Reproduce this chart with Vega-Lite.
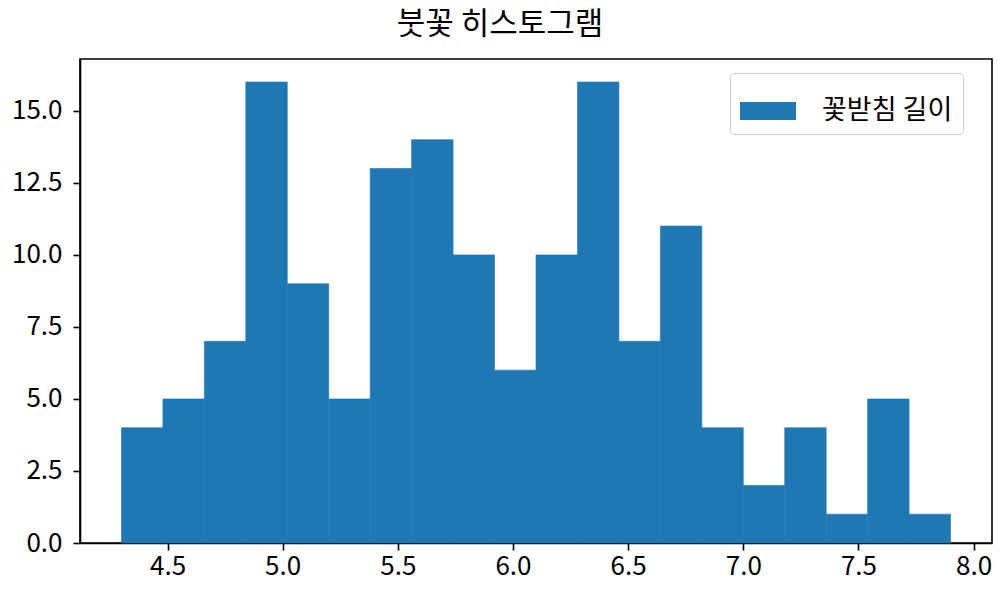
{
  "$schema": "https://vega.github.io/schema/vega-lite/v6.json",
  "width": 912,
  "height": 484,
  "autosize": {"type": "none"},
  "padding": {"left": 80, "top": 59, "right": 8, "bottom": 57},
  "background": "white",
  "config": {
    "font": "Noto Sans CJK KR",
    "view": {"stroke": "black", "strokeWidth": 1.6},
    "axis": {
      "grid": false,
      "domainColor": "black",
      "domainWidth": 1.6,
      "tickColor": "black",
      "tickWidth": 1.6,
      "tickSize": 7,
      "labelColor": "black",
      "labelFont": "Noto Sans CJK KR",
      "labelFontSize": 26,
      "title": null
    }
  },
  "title": {
    "text": "붓꽃 히스토그램",
    "fontSize": 31,
    "fontWeight": "normal",
    "font": "Noto Sans CJK KR",
    "color": "black",
    "anchor": "middle",
    "dx": -36,
    "offset": 18
  },
  "data": {
    "values": [
      {"bin_start": 4.30, "bin_end": 4.48, "count": 4},
      {"bin_start": 4.48, "bin_end": 4.66, "count": 5},
      {"bin_start": 4.66, "bin_end": 4.84, "count": 7},
      {"bin_start": 4.84, "bin_end": 5.02, "count": 16},
      {"bin_start": 5.02, "bin_end": 5.20, "count": 9},
      {"bin_start": 5.20, "bin_end": 5.38, "count": 5},
      {"bin_start": 5.38, "bin_end": 5.56, "count": 13},
      {"bin_start": 5.56, "bin_end": 5.74, "count": 14},
      {"bin_start": 5.74, "bin_end": 5.92, "count": 10},
      {"bin_start": 5.92, "bin_end": 6.10, "count": 6},
      {"bin_start": 6.10, "bin_end": 6.28, "count": 10},
      {"bin_start": 6.28, "bin_end": 6.46, "count": 16},
      {"bin_start": 6.46, "bin_end": 6.64, "count": 7},
      {"bin_start": 6.64, "bin_end": 6.82, "count": 11},
      {"bin_start": 6.82, "bin_end": 7.00, "count": 4},
      {"bin_start": 7.00, "bin_end": 7.18, "count": 2},
      {"bin_start": 7.18, "bin_end": 7.36, "count": 4},
      {"bin_start": 7.36, "bin_end": 7.54, "count": 1},
      {"bin_start": 7.54, "bin_end": 7.72, "count": 5},
      {"bin_start": 7.72, "bin_end": 7.90, "count": 1}
    ]
  },
  "mark": {"type": "rect", "stroke": "#1f77b4", "strokeWidth": 0.6},
  "encoding": {
    "x": {
      "field": "bin_start",
      "type": "quantitative",
      "scale": {"domain": [4.12, 8.08], "nice": false, "zero": false},
      "axis": {"values": [4.5, 5.0, 5.5, 6.0, 6.5, 7.0, 7.5, 8.0], "format": ".1f", "labelPadding": 3, "labelFlush": false}
    },
    "x2": {"field": "bin_end"},
    "y": {
      "field": "count",
      "type": "quantitative",
      "scale": {"domain": [0, 16.8], "nice": false},
      "axis": {"values": [0, 2.5, 5, 7.5, 10, 12.5, 15], "format": ".1f", "labelPadding": 11, "labelFlush": false}
    },
    "y2": {"datum": 0},
    "color": {
      "datum": "꽃받침 길이",
      "type": "nominal",
      "scale": {"range": ["#1f77b4"]},
      "legend": {
        "title": null,
        "orient": "none",
        "legendX": 650,
        "legendY": 14,
        "padding": 10,
        "strokeColor": "#cccccc",
        "cornerRadius": 4,
        "fillColor": "white",
        "symbolType": "M-1,-0.32H1V0.32H-1Z",
        "symbolSize": 3136,
        "symbolStrokeWidth": 0,
        "symbolOpacity": 1,
        "labelFontSize": 27,
        "labelColor": "black",
        "labelFont": "Noto Sans CJK KR",
        "labelOffset": 26,
        "labelLimit": 300
      }
    }
  }
}
